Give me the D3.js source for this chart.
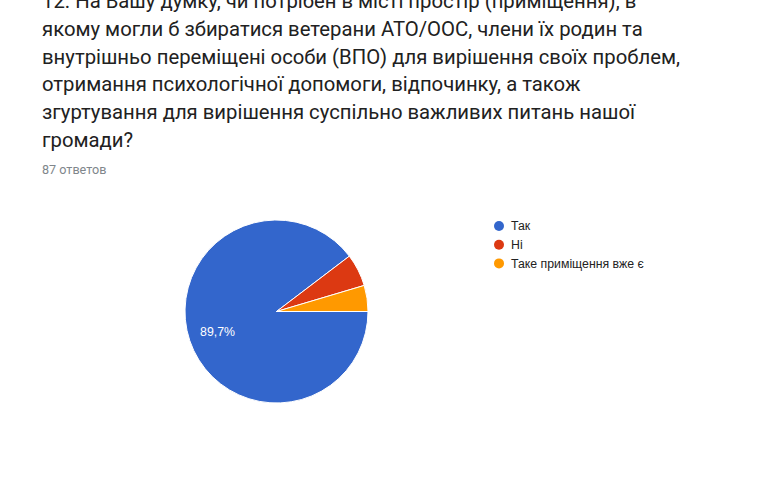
<!DOCTYPE html>
<html>
<head>
<meta charset="utf-8">
<script src="https://cdn.jsdelivr.net/npm/d3@7"></script>
<style>
  html, body { margin: 0; padding: 0; background: #fff; }
  svg { display: block; }
</style>
</head>
<body>
<svg id="chart" width="780" height="480"></svg>
<script>
const titleLines = [
  "12. На Вашу думку, чи потрібен в місті простір (приміщення), в",
  "якому могли б збиратися ветерани АТО/ООС, члени їх родин та",
  "внутрішньо переміщені особи (ВПО) для вирішення своїх проблем,",
  "отримання психологічної допомоги, відпочинку, а також",
  "згуртування для вирішення суспільно важливих питань нашої",
  "громади?"
];
const responsesLabel = "87 ответов";
const categories = ["Так", "Ні", "Таке приміщення вже є"];
const counts = [78, 5, 4];
const colors = ["#3366cc", "#dc3912", "#ff9900"];

const svg = d3.select("#chart");

// Title
const title = svg.append("g").attr("font-family", "Roboto, 'Noto Sans', sans-serif");
title.selectAll("text").data(titleLines).join("text")
  .attr("x", 42)
  .attr("y", (d, i) => 8 + i * 27.8)
  .attr("font-size", 20.3)
  .attr("fill", "#212121")
  .text(d => d);

svg.append("text")
  .attr("x", 42).attr("y", 173.5)
  .attr("font-family", "Roboto, 'Noto Sans', sans-serif")
  .attr("font-size", 12.6)
  .attr("fill", "#80868b")
  .text(responsesLabel);

// Pie
const cx = 276.5, cy = 311.5, r = 91.5;
const total = d3.sum(counts);
const data = categories.map((c, i) => ({ cat: c, value: counts[i], color: colors[i] }));
const pie = d3.pie().value(d => d.value).sort(null)
  .startAngle(Math.PI / 2).endAngle(Math.PI / 2 + 2 * Math.PI);
const arcs = pie(data);
const arc = d3.arc().innerRadius(0).outerRadius(r);
const labelArc = d3.arc().innerRadius(r * 0.68).outerRadius(r * 0.68);

const g = svg.append("g").attr("transform", `translate(${cx},${cy})`);
g.selectAll("path").data(arcs).join("path")
  .attr("d", arc)
  .attr("fill", d => d.data.color)
  .attr("stroke", "#fff")
  .attr("stroke-width", 1);

const fmt = v => (Math.round(v * 1000) / 10).toFixed(1).replace(".", ",") + "%";
g.selectAll("text").data(arcs.filter(d => d.data.value / total > 0.1)).join("text")
  .attr("transform", d => `translate(${labelArc.centroid(d)})`)
  .attr("text-anchor", "middle")
  .attr("dy", "0.35em")
  .attr("font-family", "Arial, 'Liberation Sans', sans-serif")
  .attr("font-size", 12.3)
  .attr("fill", "#fff")
  .text(d => fmt(d.data.value / total));

// Legend
const legend = svg.append("g").attr("transform", "translate(499,226)");
const items = legend.selectAll("g").data(data).join("g")
  .attr("transform", (d, i) => `translate(0,${i * 18.7})`);
items.append("circle").attr("r", 5).attr("fill", d => d.color);
items.append("text")
  .attr("x", 12).attr("dy", "0.35em")
  .attr("font-family", "Arial, 'Liberation Sans', sans-serif")
  .attr("font-size", 12.3)
  .attr("fill", "#222")
  .text(d => d.cat);
</script>
</body>
</html>
